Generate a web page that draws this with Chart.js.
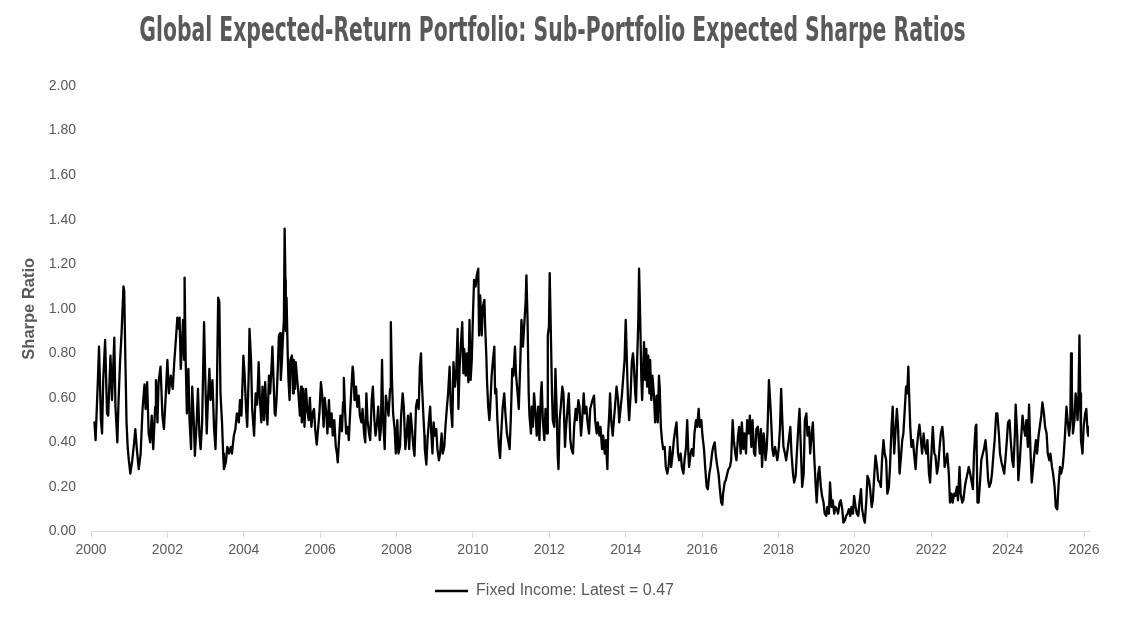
<!DOCTYPE html>
<html>
<head>
<meta charset="utf-8">
<script src="https://cdn.jsdelivr.net/npm/chart.js@4.4.1/dist/chart.umd.min.js"></script>
<style>
  html, body { margin: 0; padding: 0; background: #ffffff; }
  #wrap { width: 1131px; height: 619px; }
</style>
</head>
<body>
<div id="wrap"><canvas id="sharpeChart" width="1131" height="619"></canvas></div>
<script>
const chartTitle = 'Global Expected-Return Portfolio: Sub-Portfolio Expected Sharpe Ratios';
const seriesLabel = 'Fixed Income: Latest = 0.47';
const yAxisTitle = 'Sharpe Ratio';
const yearTicks = [2000, 2002, 2004, 2006, 2008, 2010, 2012, 2014, 2016, 2018, 2020, 2022, 2024, 2026];

// observation dates as decimal years
const dates = [
  2000.09, 2000.12, 2000.18, 2000.21, 2000.26, 2000.29, 2000.32, 2000.37, 2000.42, 2000.45,
  2000.51, 2000.55, 2000.61, 2000.64, 2000.69, 2000.72, 2000.76, 2000.80, 2000.85, 2000.87,
  2000.90, 2000.93, 2000.96, 2000.99, 2001.03, 2001.08, 2001.13, 2001.16, 2001.20, 2001.25,
  2001.30, 2001.35, 2001.40, 2001.43, 2001.47, 2001.51, 2001.55, 2001.59, 2001.63, 2001.68,
  2001.70, 2001.74, 2001.77, 2001.82, 2001.87, 2001.91, 2001.96, 2002.00, 2002.04, 2002.09,
  2002.14, 2002.18, 2002.23, 2002.26, 2002.30, 2002.32, 2002.35, 2002.38, 2002.41, 2002.44,
  2002.45, 2002.48, 2002.51, 2002.55, 2002.58, 2002.62, 2002.65, 2002.69, 2002.72, 2002.77,
  2002.80, 2002.84, 2002.87, 2002.91, 2002.96, 2002.99, 2003.03, 2003.06, 2003.10, 2003.13,
  2003.18, 2003.22, 2003.26, 2003.29, 2003.33, 2003.36, 2003.39, 2003.43, 2003.46, 2003.48,
  2003.53, 2003.57, 2003.61, 2003.66, 2003.69, 2003.74, 2003.78, 2003.82, 2003.87, 2003.90,
  2003.94, 2003.99, 2004.02, 2004.06, 2004.09, 2004.13, 2004.15, 2004.19, 2004.22, 2004.27,
  2004.31, 2004.35, 2004.39, 2004.42, 2004.46, 2004.49, 2004.53, 2004.56, 2004.60, 2004.62,
  2004.66, 2004.69, 2004.73, 2004.75, 2004.78, 2004.81, 2004.83, 2004.86, 2004.89, 2004.92,
  2004.95, 2004.97, 2005.00, 2005.02, 2005.05, 2005.07, 2005.09, 2005.10, 2005.12, 2005.15,
  2005.17, 2005.20, 2005.22, 2005.26, 2005.29, 2005.31, 2005.34, 2005.36, 2005.40, 2005.43,
  2005.47, 2005.50, 2005.52, 2005.56, 2005.59, 2005.63, 2005.66, 2005.70, 2005.73, 2005.77,
  2005.80, 2005.84, 2005.87, 2005.91, 2005.94, 2005.98, 2006.02, 2006.05, 2006.09, 2006.12,
  2006.16, 2006.19, 2006.23, 2006.26, 2006.30, 2006.33, 2006.37, 2006.41, 2006.44, 2006.46,
  2006.50, 2006.53, 2006.57, 2006.60, 2006.62, 2006.65, 2006.68, 2006.72, 2006.75, 2006.79,
  2006.82, 2006.85, 2006.87, 2006.90, 2006.94, 2006.97, 2007.01, 2007.04, 2007.08, 2007.11,
  2007.15, 2007.18, 2007.21, 2007.24, 2007.28, 2007.31, 2007.35, 2007.38, 2007.42, 2007.45,
  2007.49, 2007.52, 2007.56, 2007.59, 2007.62, 2007.65, 2007.69, 2007.72, 2007.76, 2007.79,
  2007.83, 2007.85, 2007.88, 2007.91, 2007.95, 2007.98, 2008.02, 2008.05, 2008.09, 2008.12,
  2008.16, 2008.19, 2008.23, 2008.26, 2008.30, 2008.33, 2008.37, 2008.40, 2008.44, 2008.47,
  2008.51, 2008.54, 2008.58, 2008.61, 2008.64, 2008.66, 2008.70, 2008.73, 2008.74, 2008.78,
  2008.81, 2008.85, 2008.88, 2008.91, 2008.94, 2008.97, 2009.00, 2009.04, 2009.07, 2009.11,
  2009.14, 2009.18, 2009.21, 2009.25, 2009.28, 2009.32, 2009.35, 2009.39, 2009.42, 2009.46,
  2009.49, 2009.53, 2009.56, 2009.60, 2009.62, 2009.65, 2009.68, 2009.72, 2009.75, 2009.77,
  2009.81, 2009.84, 2009.88, 2009.91, 2009.94, 2009.97, 2010.00, 2010.03, 2010.07, 2010.10,
  2010.14, 2010.16, 2010.19, 2010.23, 2010.26, 2010.30, 2010.32, 2010.35, 2010.37, 2010.40,
  2010.43, 2010.45, 2010.49, 2010.52, 2010.56, 2010.58, 2010.61, 2010.64, 2010.68, 2010.71,
  2010.75, 2010.78, 2010.82, 2010.85, 2010.89, 2010.92, 2010.96, 2010.99, 2011.03, 2011.06,
  2011.10, 2011.13, 2011.17, 2011.20, 2011.24, 2011.27, 2011.31, 2011.34, 2011.38, 2011.40,
  2011.43, 2011.46, 2011.48, 2011.52, 2011.54, 2011.57, 2011.60, 2011.64, 2011.67, 2011.71,
  2011.74, 2011.78, 2011.80, 2011.83, 2011.87, 2011.90, 2011.94, 2011.96, 2011.99, 2012.01,
  2012.04, 2012.07, 2012.09, 2012.13, 2012.16, 2012.19, 2012.22, 2012.24, 2012.27, 2012.30,
  2012.34, 2012.37, 2012.41, 2012.44, 2012.48, 2012.51, 2012.55, 2012.58, 2012.62, 2012.65,
  2012.69, 2012.72, 2012.76, 2012.79, 2012.83, 2012.86, 2012.90, 2012.93, 2012.97, 2013.00,
  2013.04, 2013.07, 2013.13, 2013.17, 2013.20, 2013.24, 2013.27, 2013.31, 2013.34, 2013.38,
  2013.41, 2013.45, 2013.48, 2013.52, 2013.54, 2013.57, 2013.59, 2013.62, 2013.66, 2013.69,
  2013.72, 2013.76, 2013.80, 2013.83, 2013.87, 2013.90, 2013.93, 2013.97, 2014.00, 2014.03,
  2014.06, 2014.09, 2014.13, 2014.16, 2014.19, 2014.21, 2014.25, 2014.27, 2014.30, 2014.33,
  2014.35, 2014.38, 2014.41, 2014.43, 2014.46, 2014.48, 2014.51, 2014.54, 2014.56, 2014.59,
  2014.62, 2014.64, 2014.67, 2014.70, 2014.74, 2014.77, 2014.81, 2014.84, 2014.87, 2014.89,
  2014.92, 2014.95, 2014.98, 2015.02, 2015.05, 2015.09, 2015.12, 2015.16, 2015.19, 2015.23,
  2015.26, 2015.30, 2015.33, 2015.37, 2015.40, 2015.44, 2015.47, 2015.51, 2015.54, 2015.58,
  2015.61, 2015.64, 2015.66, 2015.70, 2015.73, 2015.77, 2015.80, 2015.84, 2015.87, 2015.91,
  2015.94, 2015.98, 2016.01, 2016.05, 2016.08, 2016.12, 2016.15, 2016.19, 2016.22, 2016.26,
  2016.29, 2016.33, 2016.36, 2016.40, 2016.43, 2016.46, 2016.50, 2016.53, 2016.55, 2016.59,
  2016.62, 2016.66, 2016.69, 2016.73, 2016.76, 2016.80, 2016.83, 2016.87, 2016.90, 2016.94,
  2016.97, 2017.01, 2017.04, 2017.08, 2017.11, 2017.15, 2017.18, 2017.22, 2017.25, 2017.29,
  2017.32, 2017.36, 2017.39, 2017.42, 2017.46, 2017.51, 2017.54, 2017.57, 2017.61, 2017.63,
  2017.66, 2017.69, 2017.71, 2017.75, 2017.77, 2017.80, 2017.84, 2017.87, 2017.91, 2017.94,
  2017.97, 2018.01, 2018.04, 2018.07, 2018.10, 2018.13, 2018.17, 2018.20, 2018.24, 2018.27,
  2018.31, 2018.34, 2018.38, 2018.41, 2018.45, 2018.48, 2018.52, 2018.55, 2018.59, 2018.62,
  2018.66, 2018.69, 2018.73, 2018.76, 2018.80, 2018.83, 2018.87, 2018.90, 2018.94, 2018.97,
  2019.00, 2019.04, 2019.07, 2019.11, 2019.14, 2019.18, 2019.21, 2019.25, 2019.28, 2019.32,
  2019.35, 2019.39, 2019.42, 2019.46, 2019.49, 2019.53, 2019.56, 2019.60, 2019.63, 2019.67,
  2019.70, 2019.74, 2019.77, 2019.81, 2019.84, 2019.88, 2019.91, 2019.95, 2019.98, 2020.02,
  2020.05, 2020.09, 2020.12, 2020.16, 2020.19, 2020.23, 2020.26, 2020.30, 2020.33, 2020.37,
  2020.40, 2020.44, 2020.47, 2020.51, 2020.54, 2020.58, 2020.61, 2020.65, 2020.68, 2020.71,
  2020.75, 2020.78, 2020.82, 2020.85, 2020.89, 2020.92, 2020.96, 2020.99, 2021.03, 2021.06,
  2021.10, 2021.13, 2021.17, 2021.20, 2021.24, 2021.27, 2021.31, 2021.34, 2021.37, 2021.40,
  2021.42, 2021.45, 2021.48, 2021.52, 2021.55, 2021.59, 2021.62, 2021.66, 2021.69, 2021.73,
  2021.76, 2021.80, 2021.83, 2021.87, 2021.90, 2021.94, 2021.97, 2022.01, 2022.04, 2022.08,
  2022.11, 2022.15, 2022.18, 2022.22, 2022.25, 2022.29, 2022.32, 2022.35, 2022.39, 2022.42,
  2022.46, 2022.49, 2022.53, 2022.56, 2022.60, 2022.63, 2022.67, 2022.70, 2022.74, 2022.77,
  2022.81, 2022.84, 2022.88, 2022.91, 2022.95, 2022.98, 2023.02, 2023.05, 2023.09, 2023.12,
  2023.16, 2023.18, 2023.21, 2023.24, 2023.28, 2023.31, 2023.35, 2023.38, 2023.42, 2023.45,
  2023.49, 2023.52, 2023.56, 2023.59, 2023.63, 2023.66, 2023.70, 2023.73, 2023.77, 2023.80,
  2023.84, 2023.87, 2023.91, 2023.94, 2023.98, 2024.01, 2024.05, 2024.08, 2024.12, 2024.15,
  2024.19, 2024.21, 2024.25, 2024.28, 2024.32, 2024.35, 2024.39, 2024.42, 2024.46, 2024.49,
  2024.53, 2024.56, 2024.60, 2024.63, 2024.67, 2024.70, 2024.74, 2024.77, 2024.81, 2024.84,
  2024.88, 2024.91, 2024.95, 2024.98, 2025.02, 2025.05, 2025.09, 2025.12, 2025.16, 2025.19,
  2025.23, 2025.26, 2025.30, 2025.33, 2025.37, 2025.40, 2025.44, 2025.47, 2025.50, 2025.54,
  2025.58, 2025.61, 2025.64, 2025.66, 2025.68, 2025.71, 2025.75, 2025.78, 2025.80, 2025.83,
  2025.85, 2025.88, 2025.90, 2025.92, 2025.96, 2025.99, 2026.03, 2026.06, 2026.09, 2026.11,
  2026.13
];

// fixed income sub-portfolio expected Sharpe ratio
const sharpe = [
  0.49, 0.41, 0.68, 0.83, 0.50, 0.44, 0.68, 0.86, 0.53, 0.52,
  0.79, 0.59, 0.87, 0.56, 0.40, 0.58, 0.76, 0.89, 1.10, 1.08,
  0.77, 0.49, 0.38, 0.32, 0.26, 0.32, 0.40, 0.46, 0.37, 0.28,
  0.35, 0.55, 0.66, 0.55, 0.67, 0.44, 0.40, 0.52, 0.37, 0.56,
  0.68, 0.49, 0.67, 0.74, 0.52, 0.46, 0.62, 0.77, 0.62, 0.70,
  0.64, 0.76, 0.88, 0.96, 0.91, 0.96, 0.73, 0.82, 0.95, 0.77,
  1.14, 0.76, 0.53, 0.73, 0.50, 0.37, 0.65, 0.50, 0.34, 0.50,
  0.64, 0.43, 0.37, 0.49, 0.94, 0.70, 0.44, 0.58, 0.73, 0.59,
  0.68, 0.47, 0.37, 0.56, 1.05, 1.03, 0.62, 0.49, 0.35, 0.28,
  0.31, 0.38, 0.35, 0.38, 0.35, 0.43, 0.46, 0.53, 0.49, 0.59,
  0.52, 0.79, 0.71, 0.55, 0.47, 0.71, 0.91, 0.77, 0.55, 0.43,
  0.62, 0.57, 0.76, 0.60, 0.49, 0.65, 0.50, 0.67, 0.52, 0.48,
  0.70, 0.62, 0.75, 0.83, 0.68, 0.53, 0.52, 0.60, 0.73, 0.88,
  0.89, 0.68, 0.77, 0.85, 0.95, 1.36, 1.13, 0.90, 1.05, 0.80,
  0.68, 0.59, 0.77, 0.79, 0.62, 0.77, 0.64, 0.76, 0.68, 0.62,
  0.52, 0.65, 0.49, 0.64, 0.47, 0.64, 0.55, 0.50, 0.60, 0.47,
  0.53, 0.55, 0.46, 0.39, 0.45, 0.53, 0.67, 0.62, 0.47, 0.60,
  0.53, 0.44, 0.59, 0.47, 0.53, 0.43, 0.50, 0.38, 0.35, 0.31,
  0.43, 0.52, 0.45, 0.58, 0.69, 0.55, 0.44, 0.47, 0.41, 0.55,
  0.65, 0.74, 0.71, 0.59, 0.65, 0.56, 0.61, 0.52, 0.49, 0.55,
  0.44, 0.40, 0.62, 0.50, 0.44, 0.41, 0.59, 0.65, 0.50, 0.43,
  0.49, 0.56, 0.41, 0.46, 0.77, 0.50, 0.37, 0.61, 0.56, 0.52,
  0.64, 0.94, 0.68, 0.53, 0.46, 0.35, 0.50, 0.35, 0.38, 0.52,
  0.62, 0.56, 0.37, 0.43, 0.52, 0.37, 0.53, 0.47, 0.38, 0.34,
  0.56, 0.59, 0.55, 0.74, 0.80, 0.68, 0.53, 0.43, 0.37, 0.30,
  0.41, 0.50, 0.56, 0.44, 0.35, 0.49, 0.43, 0.46, 0.37, 0.32,
  0.35, 0.44, 0.35, 0.38, 0.47, 0.56, 0.62, 0.74, 0.56, 0.47,
  0.76, 0.65, 0.70, 0.91, 0.55, 0.73, 0.83, 0.94, 0.71, 0.82,
  0.70, 0.80, 0.67, 0.95, 0.68, 0.77, 0.97, 1.13, 1.10, 1.15,
  1.18, 0.88, 1.06, 0.88, 1.01, 1.04, 0.92, 0.79, 0.67, 0.56,
  0.50, 0.55, 0.70, 0.76, 0.83, 0.62, 0.64, 0.50, 0.38, 0.33,
  0.47, 0.56, 0.62, 0.53, 0.44, 0.41, 0.37, 0.50, 0.73, 0.70,
  0.83, 0.70, 0.62, 0.55, 0.76, 0.95, 0.83, 0.92, 1.03, 1.15,
  0.95, 0.62, 0.52, 0.44, 0.56, 0.47, 0.62, 0.53, 0.43, 0.56,
  0.41, 0.62, 0.67, 0.50, 0.41, 0.55, 0.44, 0.88, 0.92, 1.16,
  0.89, 0.62, 0.50, 0.47, 0.73, 0.56, 0.34, 0.28, 0.50, 0.56,
  0.65, 0.62, 0.38, 0.47, 0.56, 0.62, 0.41, 0.37, 0.35, 0.47,
  0.55, 0.50, 0.59, 0.56, 0.43, 0.50, 0.62, 0.53, 0.56, 0.49,
  0.44, 0.55, 0.59, 0.61, 0.50, 0.44, 0.49, 0.43, 0.47, 0.37,
  0.43, 0.35, 0.41, 0.28, 0.44, 0.53, 0.62, 0.50, 0.43, 0.50,
  0.56, 0.65, 0.59, 0.49, 0.56, 0.61, 0.68, 0.77, 0.95, 0.77,
  0.59, 0.50, 0.62, 0.76, 0.80, 0.76, 0.62, 0.58, 0.77, 0.95,
  1.18, 0.95, 0.68, 0.59, 0.74, 0.85, 0.68, 0.82, 0.65, 0.79,
  0.62, 0.77, 0.59, 0.70, 0.61, 0.49, 0.61, 0.49, 0.70, 0.65,
  0.47, 0.41, 0.37, 0.38, 0.29, 0.26, 0.29, 0.38, 0.29, 0.35,
  0.41, 0.46, 0.49, 0.35, 0.32, 0.35, 0.29, 0.26, 0.32, 0.38,
  0.50, 0.35, 0.29, 0.35, 0.37, 0.34, 0.44, 0.50, 0.47, 0.55,
  0.47, 0.50, 0.43, 0.37, 0.29, 0.20, 0.19, 0.26, 0.29, 0.35,
  0.38, 0.40, 0.34, 0.29, 0.26, 0.20, 0.13, 0.12, 0.17, 0.22,
  0.23, 0.26, 0.28, 0.29, 0.32, 0.50, 0.41, 0.35, 0.32, 0.43,
  0.47, 0.35, 0.49, 0.37, 0.44, 0.35, 0.50, 0.44, 0.52, 0.38,
  0.50, 0.35, 0.34, 0.46, 0.47, 0.35, 0.46, 0.29, 0.44, 0.41,
  0.32, 0.37, 0.44, 0.68, 0.62, 0.53, 0.37, 0.34, 0.38, 0.35,
  0.32, 0.38, 0.47, 0.64, 0.50, 0.38, 0.35, 0.32, 0.37, 0.41,
  0.47, 0.35, 0.26, 0.22, 0.25, 0.35, 0.47, 0.55, 0.35, 0.20,
  0.26, 0.50, 0.53, 0.43, 0.47, 0.35, 0.44, 0.49, 0.32, 0.22,
  0.13, 0.26, 0.29, 0.20, 0.16, 0.13, 0.08, 0.07, 0.11, 0.08,
  0.22, 0.11, 0.14, 0.08, 0.11, 0.10, 0.08, 0.13, 0.14, 0.10,
  0.04, 0.05, 0.07, 0.08, 0.10, 0.07, 0.11, 0.08, 0.16, 0.11,
  0.08, 0.07, 0.13, 0.19, 0.10, 0.06, 0.04, 0.14, 0.25, 0.23,
  0.19, 0.11, 0.14, 0.26, 0.34, 0.29, 0.23, 0.22, 0.20, 0.32,
  0.41, 0.35, 0.32, 0.17, 0.20, 0.29, 0.47, 0.56, 0.35, 0.44,
  0.55, 0.47, 0.26, 0.32, 0.41, 0.44, 0.56, 0.65, 0.62, 0.74,
  0.62, 0.47, 0.38, 0.41, 0.35, 0.28, 0.37, 0.44, 0.48, 0.41,
  0.35, 0.44, 0.38, 0.35, 0.41, 0.26, 0.22, 0.37, 0.47, 0.35,
  0.34, 0.26, 0.29, 0.38, 0.44, 0.47, 0.41, 0.29, 0.32, 0.35,
  0.26, 0.13, 0.17, 0.13, 0.17, 0.16, 0.20, 0.14, 0.29, 0.17,
  0.13, 0.14, 0.20, 0.23, 0.26, 0.29, 0.26, 0.23, 0.19, 0.35,
  0.47, 0.48, 0.13, 0.13, 0.23, 0.32, 0.35, 0.37, 0.41, 0.35,
  0.23, 0.20, 0.22, 0.26, 0.35, 0.41, 0.53, 0.53, 0.44, 0.35,
  0.31, 0.29, 0.26, 0.32, 0.41, 0.49, 0.50, 0.41, 0.32, 0.29,
  0.44, 0.57, 0.44, 0.23, 0.32, 0.41, 0.52, 0.47, 0.43, 0.50,
  0.38, 0.57, 0.35, 0.22, 0.29, 0.35, 0.41, 0.35, 0.43, 0.47,
  0.52, 0.58, 0.53, 0.47, 0.44, 0.35, 0.32, 0.35, 0.29, 0.26,
  0.20, 0.11, 0.10, 0.20, 0.29, 0.26, 0.29, 0.35, 0.43, 0.56,
  0.48, 0.43, 0.50, 0.80, 0.65, 0.44, 0.50, 0.62, 0.59, 0.50,
  0.56, 0.88, 0.62, 0.41, 0.35, 0.47, 0.53, 0.55, 0.45, 0.43,
  0.47
];

var textGrey = '#595959';
var bodyFont = "'Liberation Sans', Arial, sans-serif";
var titleFont = "'DejaVu Sans Condensed', 'DejaVu Sans', sans-serif";
var titleSqueeze = 0.686;

// Excel centres title and legend on the whole picture, not on the plot;
// the title face is a tall condensed one, so squeeze it sideways
var centreBoxes = {
  id: 'centreBoxes',
  afterLayout: function (chart) {
    var tb = chart.titleBlock;
    tb.left += 8 - 200;
    tb.right += 8 + 200;
    chart.legend.left += 10;
    chart.legend.right += 10;
    if (!tb._squeezed) {
      var drawTitle = tb.draw;
      tb.draw = function () {
        var ctx = this.ctx;
        var cx = (this.left + this.right) / 2;
        ctx.save();
        ctx.translate(cx, 0);
        ctx.scale(titleSqueeze, 1);
        ctx.translate(-cx, 0);
        drawTitle.apply(this, arguments);
        ctx.restore();
      };
      tb._squeezed = true;
    }
  }
};

var points = dates.map(function (d, i) {
  return { x: d, y: sharpe[i] };
});

var sharpeCanvas = document.getElementById('sharpeChart').getContext('2d');

var sharpeChart = new Chart(sharpeCanvas, {
  type: 'line',
  data: {
    datasets: [{
      label: seriesLabel,
      data: points,
      borderColor: '#000000',
      backgroundColor: '#000000',
      borderWidth: 2.3,
      pointRadius: 0,
      pointHoverRadius: 0,
      tension: 0,
      fill: false,
      borderJoinStyle: 'round',
      borderCapStyle: 'round'
    }]
  },
  options: {
    responsive: false,
    animation: false,
    devicePixelRatio: 1,
    layout: { padding: { left: 0, right: 42, top: 0, bottom: 10 } },
    plugins: {
      title: {
        display: true,
        text: chartTitle,
        color: textGrey,
        font: { family: titleFont, size: 33, weight: 'bold', lineHeight: 1.2 },
        padding: { top: 13, bottom: 33.4 }
      },
      legend: {
        display: true,
        position: 'bottom',
        labels: {
          color: textGrey,
          font: { family: bodyFont, size: 16 },
          usePointStyle: true,
          pointStyle: 'line',
          pointStyleWidth: 33,
          padding: 10
        }
      },
      tooltip: { enabled: false }
    },
    scales: {
      x: {
        type: 'linear',
        min: 2000,
        max: 2026.13,
        afterBuildTicks: function (scale) {
          scale.ticks = yearTicks.map(function (v) { return { value: v }; });
        },
        afterFit: function (scale) { scale.height = 41.5; },
        grid: { display: true, drawOnChartArea: false, drawTicks: true, tickLength: 6, color: '#d9d9d9' },
        border: { display: true, color: '#d9d9d9', width: 1 },
        ticks: {
          color: textGrey,
          font: { family: bodyFont, size: 14 },
          padding: 4,
          maxRotation: 0,
          autoSkip: false,
          callback: function (value) { return String(value); }
        }
      },
      y: {
        min: 0,
        max: 2,
        afterFit: function (scale) { scale.width = 91; },
        grid: { display: false, drawTicks: false },
        border: { display: false },
        ticks: {
          stepSize: 0.2,
          color: textGrey,
          font: { family: bodyFont, size: 14 },
          padding: 15,
          callback: function (value) { return value.toFixed(2); }
        },
        title: {
          display: true,
          text: yAxisTitle,
          color: textGrey,
          font: { family: bodyFont, size: 16.5, weight: 'bold', lineHeight: 1.2 },
          padding: { top: 20, bottom: 0 }
        }
      }
    }
  },
  plugins: [centreBoxes]
});
</script>
</body>
</html>
